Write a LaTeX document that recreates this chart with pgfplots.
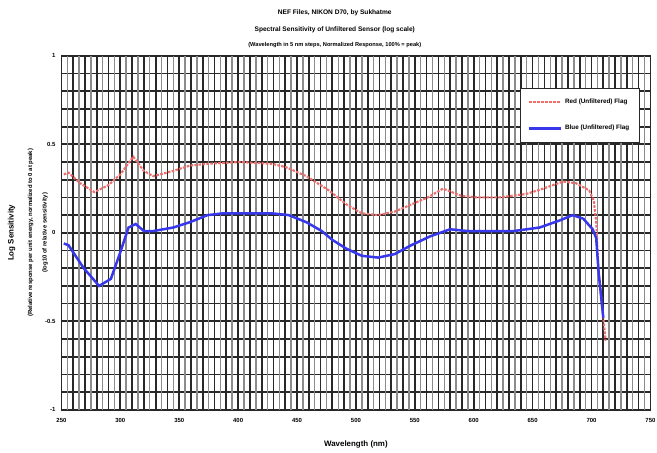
\documentclass[border=0pt]{standalone}
\usepackage{fontspec}
\setmainfont{Liberation Sans}
\usepackage{pgfplots}
\pgfplotsset{compat=1.18}

\definecolor{redline}{RGB}{238,110,110}
\definecolor{blueline}{RGB}{55,55,235}
\definecolor{gridd}{RGB}{40,40,40}

\begin{document}
\begin{tikzpicture}
\begin{axis}[
    scale only axis,
    width=446pt, height=268pt,
    xmin=250, xmax=750, ymin=-1, ymax=1,
    xtick={250,300,...,750},
    ytick={-1,-0.5,0,0.5,1},
    minor x tick num=4,
    minor y tick num=4,
    grid=both,
    major grid style={gridd, line width=1.3pt},
    minor grid style={gridd, line width=1.3pt},
    extra x ticks={255,265,...,745},
    extra x tick labels={},
    extra x tick style={grid=major, major grid style={black!45, line width=1.1pt}, major tick length=0pt},
    axis line style={gridd, line width=1.3pt},
    tick style={gridd},
    tick label style={font=\fontsize{4.5}{5}\selectfont\bfseries},
    xticklabel style={yshift=-3pt},
    yticklabel style={xshift=-1pt},
    /pgf/number format/assume math mode=true,
    xlabel={Wavelength (nm)},
    xlabel style={font=\fontsize{6}{7}\selectfont\bfseries, yshift=-7pt},
    ylabel={\fontsize{6}{7}\selectfont\bfseries Log Sensitivity\\[2pt]
            \fontsize{4.5}{5.5}\selectfont\bfseries (Relative response per unit energy, normalized to 0 at peak)\\[-1pt]
            \fontsize{4.5}{5.5}\selectfont\bfseries (log10 of relative sensitivity)},
    ylabel style={align=center, yshift=-9pt},
    title={\fontsize{5}{6}\selectfont\bfseries NEF Files, NIKON D70, by Sukhatme\\[1pt]
           \fontsize{5}{6}\selectfont\bfseries Spectral Sensitivity of Unfiltered Sensor (log scale)\\[-1pt]
           \fontsize{4.3}{5}\selectfont\bfseries (Wavelength in 5 nm steps, Normalized Response, 100\% = peak)},
    title style={align=center, yshift=-3pt, xshift=-16pt},
    legend style={at={(0.983,0.91)}, anchor=north east, draw=gridd, line width=1pt,
        font=\fontsize{4.8}{5.5}\selectfont\bfseries, row sep=11pt, inner sep=6pt,
        fill=white},
    legend image code/.code={\draw[#1] (0pt,0pt) -- (24pt,0pt);},
    legend cell align=left,
]
\addplot[redline, line width=1.6pt, dash pattern=on 2pt off 1pt] coordinates {
 (252,0.33) (256,0.34) (266,0.28) (278,0.23) (290,0.27) (300,0.33) (311,0.43)
 (320,0.35) (328,0.32) (345,0.35) (359,0.38) (374,0.39) (401,0.40) (429,0.39)
 (441,0.37) (458,0.32) (477,0.24) (492,0.16) (505,0.11) (519,0.10) (533,0.12)
 (547,0.16) (561,0.20) (574,0.25) (589,0.21) (603,0.20) (622,0.20) (645,0.22)
 (659,0.25) (676,0.29) (687,0.28) (698,0.24) (702,0.18) (704,0.06) (706,-0.22)
 (710,-0.48) (712,-0.61)
};
\addplot[blueline, line width=1.9pt] coordinates {
 (252,-0.06) (256,-0.07) (269,-0.20) (282,-0.30) (292,-0.26) (300,-0.11) (307,0.03)
 (313,0.05) (320,0.01) (328,0.01) (345,0.03) (359,0.06) (374,0.10) (387,0.11)
 (401,0.11) (429,0.11) (443,0.10) (458,0.06) (471,0.01) (480,-0.04) (492,-0.09)
 (505,-0.13) (519,-0.14) (533,-0.12) (547,-0.07) (563,-0.02) (580,0.02) (595,0.01)
 (617,0.01) (634,0.01) (656,0.03) (673,0.07) (684,0.10) (693,0.08) (701,0.02)
 (704,-0.03) (706,-0.22) (710,-0.48)
};
\legend{Red (Unfiltered) Flag, Blue (Unfiltered) Flag}
\end{axis}
\pgfresetboundingbox
\path[use as bounding box] ([shift={(-46.5pt,-32.5pt)}]current axis.south west) rectangle ([shift={(5pt,42.3pt)}]current axis.north east);
\end{tikzpicture}
\end{document}
